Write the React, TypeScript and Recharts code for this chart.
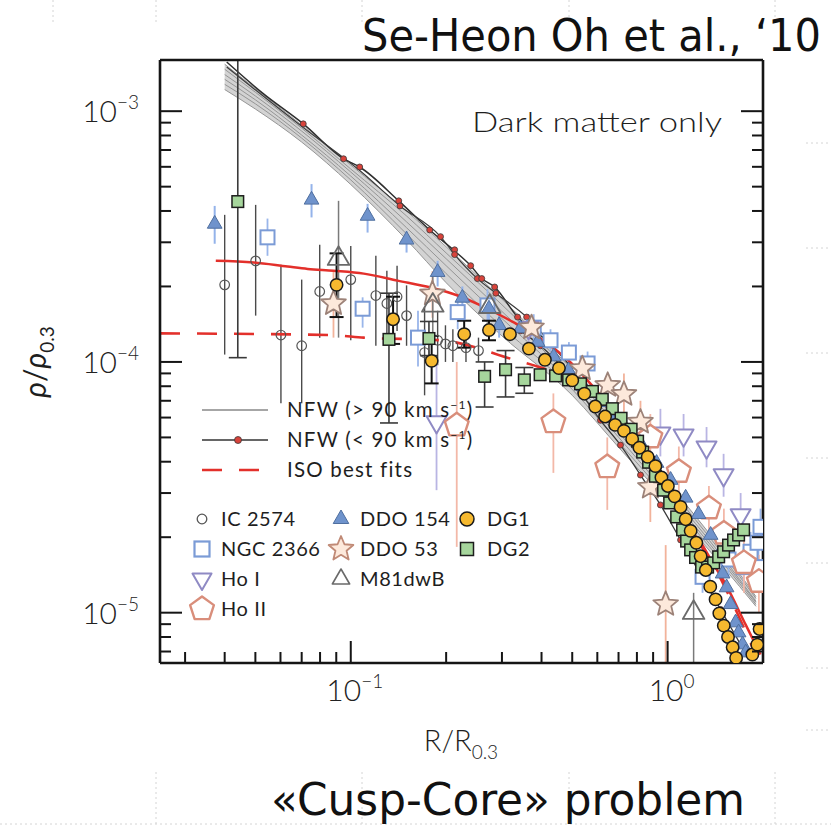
import React from "react";
import { ComposedChart, Line, Area, Scatter, XAxis, YAxis, ErrorBar } from "recharts";

const W = 831;
const H = 827;
const INK = "#151515";
const FIG_FONT = "Lato, 'DejaVu Sans', sans-serif";
const SLIDE_FONT = "'DejaVu Sans Condensed', 'Liberation Sans Narrow', Roboto, sans-serif";

// axes (log-log)
const X_DOMAIN = [0.025, 2];
const Y_DOMAIN = [6.3e-6, 1.6e-3];
const X_TICKS = [0.03, 0.04, 0.05, 0.06, 0.07, 0.08, 0.09, 0.1, 0.2, 0.3, 0.4, 0.5, 0.6, 0.7, 0.8, 0.9, 1];
const Y_TICKS = [
  7e-6, 8e-6, 9e-6, 1e-5, 2e-5, 3e-5, 4e-5, 5e-5, 6e-5, 7e-5, 8e-5, 9e-5,
  1e-4, 2e-4, 3e-4, 4e-4, 5e-4, 6e-4, 7e-4, 8e-4, 9e-4, 1e-3,
];

// NFW (> 90 km/s) grey band
const NFW_X = [0.04, 0.05, 0.07, 0.1, 0.15, 0.2, 0.3, 0.5, 0.7, 1.0, 1.5, 1.9];
const NFW_FAST = [
  [1.54e-3, 1.23e-3, 8.8e-4, 6.1e-4, 4.0e-4, 2.88e-4, 1.78e-4, 9.3e-5, 5.75e-5, 3.32e-5, 1.75e-5, 1.16e-5],
  [1.47e-3, 1.19e-3, 8.56e-4, 5.88e-4, 3.82e-4, 2.72e-4, 1.69e-4, 8.92e-5, 5.49e-5, 3.2e-5, 1.7e-5, 1.14e-5],
  [1.4e-3, 1.15e-3, 8.33e-4, 5.72e-4, 3.62e-4, 2.58e-4, 1.59e-4, 8.52e-5, 5.24e-5, 3.08e-5, 1.65e-5, 1.11e-5],
  [1.34e-3, 1.11e-3, 8.03e-4, 5.51e-4, 3.43e-4, 2.42e-4, 1.49e-4, 8.14e-5, 5.01e-5, 2.97e-5, 1.61e-5, 1.1e-5],
  [1.28e-3, 1.07e-3, 7.81e-4, 5.32e-4, 3.24e-4, 2.25e-4, 1.38e-4, 7.77e-5, 4.79e-5, 2.87e-5, 1.57e-5, 1.08e-5],
  [1.22e-3, 1.02e-3, 7.53e-4, 5.1e-4, 3.07e-4, 2.07e-4, 1.27e-4, 7.36e-5, 4.57e-5, 2.76e-5, 1.52e-5, 1.06e-5],
];

// NFW (< 90 km/s) dark lines with red dots
const SLOW_A_X = [0.0406, 0.0527, 0.0708, 0.0949, 0.1067, 0.1417, 0.1775, 0.2127, 0.239, 0.259, 0.2845, 0.336, 0.427, 0.494];
const SLOW_A_Y = [1.57e-3, 1.18e-3, 8.9e-4, 6.46e-4, 5.99e-4, 4.39e-4, 3.36e-4, 2.77e-4, 2.42e-4, 2.15e-4, 1.99e-4, 1.51e-4, 1.18e-4, 9.6e-5];
const SLOW_B_X = [0.0406, 0.0708, 0.1067, 0.143, 0.192, 0.2127, 0.251, 0.287, 0.359, 0.45];
const SLOW_B_Y = [1.5e-3, 8.6e-4, 5.8e-4, 4.19e-4, 3.16e-4, 2.68e-4, 2.15e-4, 1.88e-4, 1.51e-4, 1.1e-4];
const SLOW_C_X = [0.3435, 0.397, 0.459, 0.531, 0.614, 0.71, 0.821, 0.949, 1.099, 1.271, 1.47, 1.7];
const SLOW_C_Y = [1.33e-4, 1.16e-4, 9.68e-5, 7.56e-5, 5.85e-5, 4.66e-5, 3.54e-5, 2.69e-5, 1.95e-5, 1.42e-5, 1.03e-5, 7.46e-6];
const SLOW_DOTS_X = [0.0708, 0.0949, 0.1067, 0.1417, 0.143, 0.1775, 0.192, 0.2127, 0.2127, 0.239, 0.251, 0.259, 0.2845, 0.287, 0.336, 0.359];
const SLOW_DOTS_Y = [8.9e-4, 6.46e-4, 5.99e-4, 4.39e-4, 4.19e-4, 3.36e-4, 3.16e-4, 2.8e-4, 2.68e-4, 2.42e-4, 2.15e-4, 2.15e-4, 1.99e-4, 1.88e-4, 1.51e-4, 1.51e-4];

// ISO best fits
const ISO_SOLID_X = [0.0375, 0.0494, 0.0632, 0.0731, 0.0882, 0.1099, 0.1407, 0.1788, 0.2175, 0.257, 0.3195, 0.397, 0.494, 0.614, 0.763, 0.949, 1.271, 1.524, 1.763, 1.964];
const ISO_SOLID_Y = [2.53e-4, 2.49e-4, 2.4e-4, 2.35e-4, 2.31e-4, 2.25e-4, 2.11e-4, 1.98e-4, 1.84e-4, 1.68e-4, 1.46e-4, 1.24e-4, 9.95e-5, 7.36e-5, 5.24e-5, 3.54e-5, 1.86e-5, 1.3e-5, 8.96e-6, 6.81e-6];
const ISO_DASH_X = [0.025, 0.0864, 0.1099, 0.192, 0.3195, 0.459, 0.614, 0.821, 1.099, 1.367, 1.639, 1.895];
const ISO_DASH_Y = [1.3e-4, 1.28e-4, 1.25e-4, 1.22e-4, 1.03e-4, 8.84e-5, 7.03e-5, 4.45e-5, 2.57e-5, 1.63e-5, 1.03e-5, 6.81e-6];

// galaxies: [R, rho, errLow, errHigh]
const IC2574 = [
  [0.04, 2.03e-4, 1.07e-4, 3.86e-4], [0.0501, 2.53e-4, 1.53e-4, 4.23e-4], [0.0602, 1.28e-4, 6.84e-5, 2.44e-4],
  [0.07, 1.16e-4, 6.84e-5, 2.13e-4], [0.0798, 1.91e-4, 1.25e-4, 2.93e-4], [0.1, 2.13e-4, 1.22e-4, 2.9e-4],
  [0.12, 1.84e-4, 1.16e-4, 2.65e-4], [0.13, 1.71e-4, 1.27e-4, 2.31e-4], [0.14, 1.82e-4, 1.33e-4, 2.42e-4],
  [0.15, 1.53e-4, 1.16e-4, 2.02e-4], [0.171, 1.09e-4, 7.36e-5, 1.65e-4], [0.188, 1.22e-4, 9.7e-5, 1.6e-4],
  [0.199, 1.18e-4, 1.0e-4, 1.4e-4], [0.21, 1.16e-4, 1.0e-4, 1.35e-4], [0.231, 1.14e-4, 1.0e-4, 1.3e-4],
  [0.253, 1.11e-4, 1.0e-4, 1.25e-4],
];
const NGC2366 = [
  [0.0546, 3.14e-4, 2.65e-4, 3.73e-4], [0.109, 1.63e-4, 1.37e-4, 1.81e-4], [0.163, 1.25e-4, 9.6e-5, 1.6e-4],
  [0.2175, 1.58e-4, 1.35e-4, 1.85e-4], [0.27, 1.68e-4, 1.45e-4, 1.95e-4], [0.378, 1.37e-4, 1.2e-4, 1.55e-4],
  [0.427, 1.22e-4, 1.1e-4, 1.35e-4], [0.488, 1.09e-4, 9.8e-5, 1.2e-4], [0.559, 9.86e-5, 8.8e-5, 1.1e-4],
  [1.289, 1.39e-5, 1.2e-5, 1.6e-5], [1.557, 1.63e-5, 1.4e-5, 1.9e-5], [1.737, 1.52e-5, 1.3e-5, 1.8e-5],
  [1.827, 1.75e-5, 1.5e-5, 2.1e-5], [1.922, 1.9e-5, 1.6e-5, 2.3e-5], [1.964, 2.2e-5, 1.9e-5, 2.6e-5],
  [1.935, 1.52e-5, 1.3e-5, 1.8e-5],
];
const HO1 = [
  [0.1865, 5.76e-5, 3.08e-5, 1.0e-4], [0.364, 1.37e-4, 1.2e-4, 1.55e-4], [0.949, 5.19e-5, 4.2e-5, 6.5e-5],
  [1.123, 5.1e-5, 4.2e-5, 6.2e-5], [1.327, 4.57e-5, 3.8e-5, 5.5e-5], [1.502, 3.54e-5, 2.9e-5, 4.3e-5],
  [1.7, 2.45e-5, 2.0e-5, 3.0e-5],
];
const HO2 = [
  [0.216, 5.59e-5, 1.83e-5, 1.0e-4], [0.436, 5.76e-5, 3.61e-5, 7.49e-5], [0.645, 3.81e-5, 2.57e-5, 5.0e-5],
  [0.882, 5.01e-5, 4.0e-5, 6.2e-5], [1.085, 3.65e-5, 2.9e-5, 4.6e-5], [1.35, 2.61e-5, 2.1e-5, 3.2e-5],
  [1.505, 2.07e-5, 1.7e-5, 2.6e-5], [1.741, 1.58e-5, 1.2e-5, 2.0e-5], [1.941, 1.33e-5, 1.0e-5, 1.7e-5],
];
const DDO154 = [
  [0.0372, 3.55e-4, 2.96e-4, 4.19e-4], [0.0752, 4.43e-4, 3.77e-4, 5.12e-4], [0.113, 3.82e-4, 3.28e-4, 4.27e-4],
  [0.15, 3.07e-4, 2.73e-4, 3.33e-4], [0.188, 2.28e-4, 2.0e-4, 2.53e-4], [0.225, 1.8e-4, 1.6e-4, 2.0e-4],
  [0.273, 1.63e-4, 1.45e-4, 1.8e-4], [0.294, 1.4e-4, 1.25e-4, 1.55e-4],
  [0.3435, 1.36e-4], [0.389, 1.2e-4], [0.437, 1.05e-4], [0.487, 9.25e-5], [0.543, 7.99e-5], [0.606, 6.9e-5],
  [0.671, 5.96e-5], [0.742, 5.34e-5], [0.821, 4.74e-5], [0.923, 3.95e-5], [1.022, 3.38e-5], [1.14, 2.87e-5],
  [1.252, 2.47e-5], [1.367, 2.04e-5], [1.438, 1.67e-5], [1.491, 1.43e-5], [1.535, 1.26e-5], [1.58, 1.08e-5],
  [1.639, 9.13e-6], [1.675, 8.33e-6], [1.724, 7.46e-6], [1.763, 6.93e-6],
];
const DDO53 = [
  [0.0882, 1.71e-4, 1.25e-4, 2.3e-4], [0.181, 1.87e-4, 1.5e-4, 2.3e-4], [0.372, 1.37e-4], [0.538, 9.4e-5],
  [0.647, 8.07e-5], [0.728, 7.43e-5, 6.0e-5, 9.0e-5], [0.821, 5.76e-5, 4.5e-5, 7.0e-5],
  [0.882, 3.17e-5, 2.3e-5, 4.2e-5], [0.986, 1.08e-5, 6.3e-6, 1.86e-5],
];
const M81DWB = [
  [0.0915, 2.58e-4, 1.25e-4, 4.39e-4], [0.1815, 1.68e-4, 1.3e-4, 2.2e-4], [0.2745, 1.66e-4], [1.208, 1.0e-5, 6.3e-6, 1.2e-5],
];
const DG1 = [
  [0.0902, 2.03e-4, 1.51e-4, 2.71e-4], [0.136, 1.48e-4, 1.18e-4, 1.82e-4], [0.18, 1.01e-4, 8.21e-5, 1.27e-4],
  [0.228, 1.29e-4, 1.14e-4, 1.46e-4], [0.273, 1.34e-4, 1.22e-4, 1.46e-4],
  [0.318, 1.29e-4], [0.365, 1.13e-4], [0.41, 1.02e-4], [0.454, 9.45e-5], [0.5, 8.44e-5], [0.546, 7.47e-5],
  [0.591, 6.64e-5], [0.635, 6.06e-5], [0.683, 5.61e-5], [0.728, 5.31e-5], [0.773, 4.93e-5], [0.815, 4.55e-5],
  [0.865, 4.18e-5], [0.915, 3.84e-5], [0.956, 3.46e-5], [1.002, 3.2e-5], [1.052, 2.91e-5], [1.099, 2.64e-5],
  [1.14, 2.36e-5], [1.182, 2.12e-5], [1.232, 1.9e-5], [1.271, 1.68e-5], [1.32, 1.48e-5], [1.363, 1.27e-5],
  [1.417, 1.13e-5], [1.456, 9.94e-6], [1.504, 8.88e-6], [1.551, 8.0e-6], [1.604, 7.28e-6], [1.645, 6.6e-6],
  [1.851, 6.81e-6], [1.918, 7.46e-6], [1.951, 8.61e-6],
];
const DG2 = [
  [0.044, 4.36e-4, 1.04e-4, 1.6e-3], [0.132, 1.23e-4, 5.71e-5, 1.88e-4], [0.1765, 1.24e-4, 1.06e-4, 1.45e-4],
  [0.2645, 8.76e-5, 6.61e-5, 1.0e-4], [0.308, 9.31e-5, 7.25e-5, 1.11e-4], [0.353, 8.48e-5, 7.5e-5, 9.5e-5],
  [0.396, 8.89e-5], [0.443, 8.8e-5], [0.487, 8.48e-5], [0.531, 8.18e-5], [0.579, 7.63e-5], [0.622, 7.09e-5],
  [0.669, 6.51e-5], [0.713, 5.96e-5], [0.767, 5.39e-5], [0.804, 4.83e-5], [0.834, 4.37e-5], [0.871, 3.98e-5],
  [0.915, 3.5e-5], [0.971, 3.08e-5], [1.015, 2.74e-5], [1.068, 2.41e-5], [1.115, 2.14e-5], [1.148, 1.93e-5],
  [1.182, 1.78e-5], [1.225, 1.66e-5], [1.28, 1.52e-5], [1.337, 1.52e-5], [1.397, 1.58e-5], [1.449, 1.67e-5],
  [1.502, 1.75e-5], [1.557, 1.86e-5], [1.615, 1.95e-5], [1.675, 2.04e-5], [1.737, 2.14e-5],
];

const toLine = (xs: number[], ys: number[]) => xs.map((x, i) => ({ x, y: ys[i] }));
const toPts = (rows: number[][]) =>
  rows.map(([x, y, lo, hi]) => ({ x, y, err: lo === undefined ? undefined : [y - lo, hi - y] }));
const bandData = NFW_X.map((x, i) => ({ x, range: [NFW_FAST[NFW_FAST.length - 1][i], NFW_FAST[0][i]] }));

// ---------- markers ----------
type MarkStyle = { kind: string; r: number; fill: string; stroke: string; sw: number };

const poly = (cx: number, cy: number, R: number, n: number, start: number) =>
  Array.from({ length: n }, (_, i) => {
    const a = start + (i * 2 * Math.PI) / n;
    return `${cx + R * Math.cos(a)},${cy + R * Math.sin(a)}`;
  }).join(" ");

const star = (cx: number, cy: number, R: number, r: number) =>
  Array.from({ length: 10 }, (_, i) => {
    const a = -Math.PI / 2 + (i * Math.PI) / 5;
    const k = i % 2 === 0 ? R : r;
    return `${cx + k * Math.cos(a)},${cy + k * Math.sin(a)}`;
  }).join(" ");

function Mark({ cx, cy, m }: { cx: number; cy: number; m: MarkStyle }) {
  const p = { fill: m.fill, stroke: m.stroke, strokeWidth: m.sw };
  switch (m.kind) {
    case "circle":
      return <circle cx={cx} cy={cy} r={m.r} {...p} />;
    case "square":
      return <rect x={cx - m.r} y={cy - m.r} width={2 * m.r} height={2 * m.r} {...p} />;
    case "triUp":
      return <polygon points={poly(cx, cy, m.r, 3, -Math.PI / 2)} {...p} strokeLinejoin="round" />;
    case "triDown":
      return <polygon points={poly(cx, cy, m.r, 3, Math.PI / 2)} {...p} strokeLinejoin="round" />;
    case "pent":
      return <polygon points={poly(cx, cy, m.r, 5, -Math.PI / 2)} {...p} strokeLinejoin="round" />;
    case "star":
      return <polygon points={star(cx, cy, m.r, m.r * 0.45)} {...p} strokeLinejoin="round" />;
    default:
      return null;
  }
}

const GALAXIES = [
  { name: "IC 2574", rows: IC2574, m: { kind: "circle", r: 4.8, fill: "none", stroke: "#555", sw: 1.2 }, err: "#4a4a4a", ew: 1.4, cap: 0 },
  { name: "NGC 2366", rows: NGC2366, m: { kind: "square", r: 7, fill: "#fff", stroke: "#7b9bd6", sw: 2 }, err: "#9ab6ea", ew: 1.8, cap: 0 },
  { name: "Ho I", rows: HO1, m: { kind: "triDown", r: 11.5, fill: "#fff", stroke: "#8f8ac4", sw: 2 }, err: "#b9b5e3", ew: 1.8, cap: 0 },
  { name: "Ho II", rows: HO2, m: { kind: "pent", r: 12.5, fill: "#fff", stroke: "#d98e7b", sw: 2.4 }, err: "#f3b8a8", ew: 1.8, cap: 0 },
  { name: "DDO 154", rows: DDO154, m: { kind: "triUp", r: 8.5, fill: "#6f93cc", stroke: "#4f6f9f", sw: 1 }, err: "#94b3ea", ew: 2, cap: 0 },
  { name: "DDO 53", rows: DDO53, m: { kind: "star", r: 13, fill: "#fde9db", stroke: "#9c8278", sw: 1.8 }, err: "#f2b39b", ew: 1.8, cap: 0 },
  { name: "M81dwB", rows: M81DWB, m: { kind: "triUp", r: 12.5, fill: "none", stroke: "#6a6a6a", sw: 1.8 }, err: "#7a7a7a", ew: 1.5, cap: 0 },
  { name: "DG2", rows: DG2, m: { kind: "square", r: 5.8, fill: "#a6d69c", stroke: "#1d1d1d", sw: 1.5 }, err: "#3a3a3a", ew: 1.6, cap: 9 },
  { name: "DG1", rows: DG1, m: { kind: "circle", r: 6.2, fill: "#f6b92f", stroke: "#1a1a1a", sw: 1.5 }, err: "#111", ew: 2, cap: 7 },
];

const RED_DOT: MarkStyle = { kind: "circle", r: 3, fill: "#d8433b", stroke: "#3a3a3a", sw: 0.8 };

// ---------- ticks ----------
const isMajor = (v: number) => Math.abs(Math.log10(v) - Math.round(Math.log10(v))) < 1e-9;
const MAJ = 22;
const MIN = 11;

function Pow({ x, y, v, anchor }: { x: number; y: number; v: number; anchor: string }) {
  const e = Math.round(Math.log10(v));
  return (
    <text x={x} y={y} textAnchor={anchor} fontFamily={FIG_FONT} fontWeight={300} fontSize={30} fill="#222">
      10
      <tspan dy={-13} fontSize={19}>{e < 0 ? `\u2212${-e}` : `${e}`}</tspan>
    </text>
  );
}

function BottomTick(props: any) {
  const { x, y, payload } = props;
  const major = isMajor(payload.value);
  return (
    <g>
      <line x1={x} y1={y} x2={x} y2={y - (major ? MAJ : MIN)} stroke={INK} strokeWidth={2} />
      {major && <Pow x={x + 4} y={y + 38} v={payload.value} anchor="middle" />}
    </g>
  );
}
function TopTick(props: any) {
  const { x, y, payload } = props;
  return <line x1={x} y1={y} x2={x} y2={y + (isMajor(payload.value) ? MAJ : MIN)} stroke={INK} strokeWidth={2} />;
}
function LeftTick(props: any) {
  const { x, y, payload } = props;
  const major = isMajor(payload.value);
  return (
    <g>
      <line x1={x} y1={y} x2={x + (major ? MAJ : MIN)} y2={y} stroke={INK} strokeWidth={2} />
      {major && <Pow x={x - 21} y={y + 11} v={payload.value} anchor="end" />}
    </g>
  );
}
function RightTick(props: any) {
  const { x, y, payload } = props;
  return <line x1={x} y1={y} x2={x - (isMajor(payload.value) ? MAJ : MIN)} y2={y} stroke={INK} strokeWidth={2} />;
}

const FRAME = { stroke: INK, strokeWidth: 2.6 };

// ---------- overlay (legend, labels, slide text) ----------
function Overlay() {
  const t = { fontFamily: FIG_FONT, fill: "#1e1e1e" };
  const leg = [
    [
      { name: "IC 2574", m: { kind: "circle", r: 4.8, fill: "none", stroke: "#555", sw: 1.3 } },
      { name: "NGC 2366", m: { kind: "square", r: 7.5, fill: "#fff", stroke: "#7b9bd6", sw: 2.2 } },
      { name: "Ho I", m: { kind: "triDown", r: 11, fill: "#fff", stroke: "#8f8ac4", sw: 2 } },
      { name: "Ho II", m: { kind: "pent", r: 12.5, fill: "#fff", stroke: "#d98e7b", sw: 2.4 } },
    ],
    [
      { name: "DDO 154", m: { kind: "triUp", r: 9, fill: "#6f93cc", stroke: "#4f6f9f", sw: 1 } },
      { name: "DDO 53", m: { kind: "star", r: 13, fill: "#fde9db", stroke: "#c08a76", sw: 1.8 } },
      { name: "M81dwB", m: { kind: "triUp", r: 10, fill: "#fff", stroke: "#6a6a6a", sw: 1.6 } },
    ],
    [
      { name: "DG1", m: { kind: "circle", r: 7, fill: "#f6b92f", stroke: "#1a1a1a", sw: 1.5 } },
      { name: "DG2", m: { kind: "square", r: 6.5, fill: "#a6d69c", stroke: "#1d1d1d", sw: 1.5 } },
    ],
  ];
  const colX = [[202, 221], [341, 360], [467, 487]];
  const rowY = [519, 549, 579, 609];
  const dotted = { stroke: "#d4d4d4", strokeWidth: 1, strokeDasharray: "2 3" };
  return (
    <svg width={W} height={H} style={{ position: "absolute", left: 0, top: 0, pointerEvents: "none" }}>
      {/* faint slide guides */}
      {[53, 156, 362, 569, 775].map((x) => (
        <line key={`gt${x}`} x1={x} y1={0} x2={x} y2={24} {...dotted} />
      ))}
      {[156, 362, 569, 775].map((x) => (
        <line key={`gb${x}`} x1={x} y1={772} x2={x} y2={827} {...dotted} />
      ))}
      {[143, 248, 353, 458, 563, 668, 730].map((y) => (
        <line key={`gr${y}`} x1={806} y1={y} x2={831} y2={y} {...dotted} />
      ))}
      <line x1={0} y1={824} x2={831} y2={824} {...dotted} />

      <text x={362} y={51} fontFamily={SLIDE_FONT} fontSize={44} fill="#111" textLength={459} lengthAdjust="spacingAndGlyphs">
        Se-Heon Oh et al., ‘10
      </text>
      <text x={271} y={815} fontFamily={SLIDE_FONT} fontSize={44} fill="#111" textLength={474} lengthAdjust="spacingAndGlyphs">
        «Cusp-Core» problem
      </text>

      <text x={461} y={751} textAnchor="middle" fontSize={29} fontWeight={300} {...t}>
        R/R<tspan dy={8} fontSize={19}>0.3</tspan>
      </text>
      <text transform="translate(46,362) rotate(-90)" textAnchor="middle" fontSize={30} {...t}>
        <tspan fontStyle="italic">ρ</tspan>/<tspan fontStyle="italic">ρ</tspan>
        <tspan dy={8} fontSize={19}>0.3</tspan>
      </text>

      <text x={472} y={132} fontSize={27} fontWeight={300} textLength={250} lengthAdjust="spacingAndGlyphs" {...t}>
        Dark matter only
      </text>

      {/* line legend */}
      <line x1={202} y1={410} x2={268} y2={410} stroke="#888" strokeWidth={1.5} />
      <line x1={202} y1={440} x2={268} y2={440} stroke="#333" strokeWidth={1.5} />
      <circle cx={238} cy={440} r={3.5} fill="#d8433b" stroke="#3a3a3a" strokeWidth={0.8} />
      <line x1={202} y1={470} x2={260} y2={470} stroke="#e3302b" strokeWidth={2.5} strokeDasharray="20 17" />
      <text x={287} y={417} fontSize={20.5} letterSpacing={1.2} {...t}>
        NFW (&gt; 90 km s<tspan dy={-8} fontSize={12}>−1</tspan><tspan dy={8}>)</tspan>
      </text>
      <text x={287} y={447} fontSize={20.5} letterSpacing={1.2} {...t}>
        NFW (&lt; 90 km s<tspan dy={-8} fontSize={12}>−1</tspan><tspan dy={8}>)</tspan>
      </text>
      <text x={287} y={477} fontSize={20.5} letterSpacing={1.2} {...t}>
        ISO best fits
      </text>

      {/* galaxy legend */}
      {leg.map((col, c) =>
        col.map((it, r) => (
          <g key={it.name}>
            <Mark cx={colX[c][0]} cy={rowY[r]} m={it.m} />
            <text x={colX[c][1]} y={rowY[r] + 7} fontSize={20} letterSpacing={0.6} {...t}>
              {it.name}
            </text>
          </g>
        ))
      )}
    </svg>
  );
}

export default function App() {
  return (
    <div style={{ position: "absolute", left: 0, top: 0, width: W, height: H, background: "#fff", overflow: "hidden" }}>
      <div style={{ position: "absolute", left: 0, top: 0 }}>
        <ComposedChart width={W} height={H} margin={{ top: 59, right: 67, bottom: 0, left: 0 }}>
          <XAxis
            dataKey="x" type="number" scale="log" domain={X_DOMAIN} ticks={X_TICKS} interval={0}
            allowDataOverflow height={164} tickSize={0} tickMargin={0} tickLine={false}
            tick={<BottomTick />} axisLine={FRAME}
          />
          <XAxis
            xAxisId="top" orientation="top" type="number" scale="log" domain={X_DOMAIN} ticks={X_TICKS} interval={0}
            allowDataOverflow height={1} tickSize={0} tickMargin={0} tickLine={false}
            tick={<TopTick />} axisLine={FRAME}
          />
          <YAxis
            dataKey="y" type="number" scale="log" domain={Y_DOMAIN} ticks={Y_TICKS} interval={0}
            allowDataOverflow width={160} tickSize={0} tickMargin={0} tickLine={false}
            tick={<LeftTick />} axisLine={FRAME}
          />
          <YAxis
            yAxisId="right" orientation="right" type="number" scale="log" domain={Y_DOMAIN} ticks={Y_TICKS} interval={0}
            allowDataOverflow width={1} tickSize={0} tickMargin={0} tickLine={false}
            tick={<RightTick />} axisLine={FRAME}
          />

          <Area data={bandData} dataKey="range" type="monotone" fill="#d3d3d3" fillOpacity={1} stroke="none" isAnimationActive={false} />
          {NFW_FAST.map((ys, i) => (
            <Line key={`fast${i}`} data={toLine(NFW_X, ys)} dataKey="y" type="monotone" stroke="#959595" strokeWidth={1} dot={false} activeDot={false} isAnimationActive={false} />
          ))}
          <Line data={toLine(SLOW_A_X, SLOW_A_Y)} dataKey="y" type="monotone" stroke="#2e2e2e" strokeWidth={1.5} dot={false} activeDot={false} isAnimationActive={false} />
          <Line data={toLine(SLOW_B_X, SLOW_B_Y)} dataKey="y" type="monotone" stroke="#3a3a3a" strokeWidth={1.2} dot={false} activeDot={false} isAnimationActive={false} />
          <Line
            data={toLine(SLOW_C_X, SLOW_C_Y)} dataKey="y" type="monotone" stroke="#3a3a3a" strokeWidth={1.3}
            dot={(p: any) => <Mark key={`c${p.index}`} cx={p.cx} cy={p.cy} m={RED_DOT} />} activeDot={false} isAnimationActive={false}
          />
          <Scatter data={toLine(SLOW_DOTS_X, SLOW_DOTS_Y)} shape={(p: any) => <Mark cx={p.cx} cy={p.cy} m={RED_DOT} />} isAnimationActive={false} />

          {GALAXIES.slice(0, 7).map((g) => (
            <Scatter key={g.name} data={toPts(g.rows)} shape={(p: any) => <Mark cx={p.cx} cy={p.cy} m={g.m} />} isAnimationActive={false}>
              <ErrorBar dataKey="err" direction="y" width={g.cap} stroke={g.err} strokeWidth={g.ew} />
            </Scatter>
          ))}

          <Line data={toLine(ISO_SOLID_X, ISO_SOLID_Y)} dataKey="y" type="monotone" stroke="#e3302b" strokeWidth={2.5} dot={false} activeDot={false} isAnimationActive={false} />
          <Line data={toLine(ISO_DASH_X, ISO_DASH_Y)} dataKey="y" type="monotone" stroke="#e3302b" strokeWidth={2.6} strokeDasharray="20 17" dot={false} activeDot={false} isAnimationActive={false} />

          {GALAXIES.slice(7).map((g) => (
            <Scatter key={g.name} data={toPts(g.rows)} shape={(p: any) => <Mark cx={p.cx} cy={p.cy} m={g.m} />} isAnimationActive={false}>
              <ErrorBar dataKey="err" direction="y" width={g.cap} stroke={g.err} strokeWidth={g.ew} />
            </Scatter>
          ))}
        </ComposedChart>
      </div>
      <Overlay />
    </div>
  );
}
